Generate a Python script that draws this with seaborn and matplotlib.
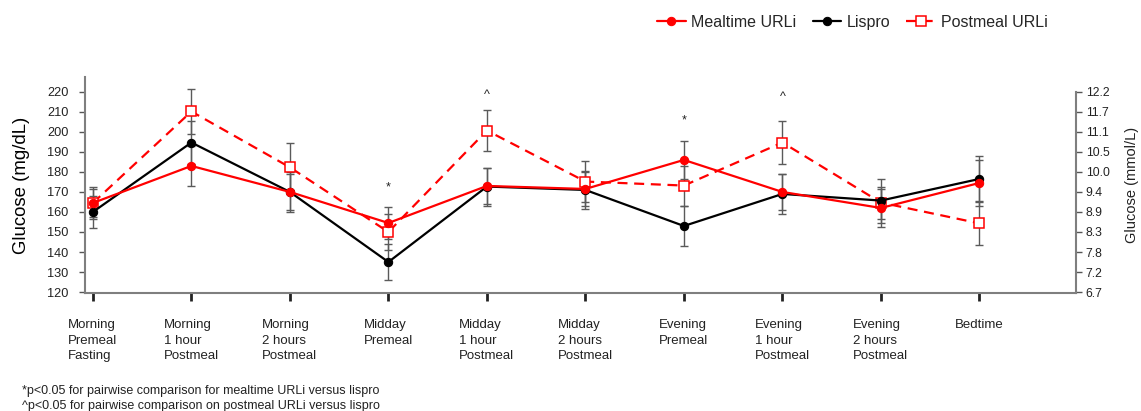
import numpy as np
import pandas as pd
import matplotlib
matplotlib.use("Agg")
import matplotlib.pyplot as plt
import seaborn as sns

# time points along the day
timepoints = [
    "Morning\nPremeal\nFasting",
    "Morning\n1 hour\nPostmeal",
    "Morning\n2 hours\nPostmeal",
    "Midday\nPremeal",
    "Midday\n1 hour\nPostmeal",
    "Midday\n2 hours\nPostmeal",
    "Evening\nPremeal",
    "Evening\n1 hour\nPostmeal",
    "Evening\n2 hours\nPostmeal",
    "Bedtime",
]

# glucose, mg/dL (mean and error)
mealtime = [164.5, 183.0, 170.0, 154.5, 173.0, 171.5, 186.0, 170.0, 162.0, 174.5]
mealtime_err = [7.0, 10.0, 9.0, 7.8, 9.0, 8.5, 9.7, 9.0, 9.5, 11.5]
lispro = [160.0, 194.7, 170.0, 135.0, 172.7, 171.0, 153.0, 169.0, 165.7, 176.5]
lispro_err = [8.0, 10.7, 10.0, 9.0, 9.5, 9.5, 10.0, 10.0, 11.0, 11.5]
postmeal = [164.5, 210.2, 182.3, 150.0, 200.7, 175.2, 173.2, 194.7, 164.7, 154.3]
postmeal_err = [8.0, 11.2, 12.0, 9.0, 10.4, 10.3, 10.0, 10.7, 8.0, 11.0]

# axis ticks
mg_ticks = [120, 130, 140, 150, 160, 170, 180, 190, 200, 210, 220]
mmol_labels = ["6.7", "7.2", "7.8", "8.3", "8.9", "9.4", "10.0", "10.5", "11.1", "11.7", "12.2"]

# significance marks (time point index, y position, symbol)
sig_idx = [3, 4, 6, 7]
sig_y = [172.5, 218.5, 205.5, 217.3]
sig_sym = ["*", "^", "*", "^"]

footnotes = [
    "*p<0.05 for pairwise comparison for mealtime URLi versus lispro",
    "^p<0.05 for pairwise comparison on postmeal URLi versus lispro",
]

sns.set_theme(style="ticks")
plt.rcParams["font.family"] = ["Liberation Sans", "DejaVu Sans"]

df = pd.DataFrame({
    "idx": np.arange(len(timepoints)),
    "mealtime": mealtime,
    "lispro": lispro,
    "postmeal": postmeal,
})

fig = plt.figure(figsize=(11.41, 4.11), dpi=100)
ax = fig.add_axes([0.0745, 0.287, 0.8685, 0.526])

err_kw = dict(fmt="none", ecolor="#5a5a5a", elinewidth=1.0, capsize=3, capthick=1.0, zorder=1)
ax.errorbar(df["idx"], df["postmeal"], yerr=postmeal_err, **err_kw)
ax.errorbar(df["idx"], df["lispro"], yerr=lispro_err, **err_kw)
ax.errorbar(df["idx"], df["mealtime"], yerr=mealtime_err, **err_kw)

sns.lineplot(data=df, x="idx", y="postmeal", ax=ax, color="red", lw=1.6,
             linestyle=(0, (4.5, 3)), marker="s", markersize=6.5,
             markerfacecolor="white", markeredgecolor="red", markeredgewidth=1.1,
             label="Postmeal URLi", zorder=3)
sns.lineplot(data=df, x="idx", y="lispro", ax=ax, color="black", lw=1.6,
             marker="o", markersize=6, markeredgecolor="black",
             label="Lispro", zorder=4)
sns.lineplot(data=df, x="idx", y="mealtime", ax=ax, color="red", lw=1.6,
             marker="o", markersize=6, markeredgecolor="red",
             label="Mealtime URLi", zorder=5)

for i, yv, s in zip(sig_idx, sig_y, sig_sym):
    ax.text(i, yv, s, ha="center", va="center", fontsize=9, color="#222222")

ax.set_xlim(-0.08, 9.98)
ax.set_ylim(119.5, 227.5)
ax.set_xticks(df["idx"])
ax.set_xticklabels(timepoints, fontsize=9.5, ha="center", multialignment="left",
                   linespacing=1.35, color="#222222")
ax.set_yticks(mg_ticks)
ax.set_yticklabels([str(t) for t in mg_ticks], fontsize=9.2, color="#222222")
ax.set_xlabel("")
ax.set_ylabel("Glucose (mg/dL)", fontsize=13.4, color="black")
ax.yaxis.set_label_coords(-0.0555, 0.5)
ax.tick_params(axis="x", direction="out", length=6, width=2, color="#222222", pad=13)
ax.tick_params(axis="y", direction="out", length=4, width=1, color="#555555", pad=8)

for side in ["left", "bottom"]:
    ax.spines[side].set_color("#7f7f7f")
    ax.spines[side].set_linewidth(1.5)
ax.spines["top"].set_visible(False)
ax.spines["right"].set_visible(False)

ax2 = ax.twinx()
ax2.set_ylim(ax.get_ylim())
ax2.set_yticks(mg_ticks)
ax2.set_yticklabels(mmol_labels, fontsize=8.8, color="#222222")
ax2.set_ylabel("Glucose (mmol/L)", fontsize=10.5, color="#222222")
ax2.yaxis.set_label_coords(1.049, 0.5)
ax2.tick_params(axis="y", direction="out", length=4, width=1, color="#555555", pad=3)
ax2.spines["right"].set_color("#7f7f7f")
ax2.spines["right"].set_linewidth(1.5)
ax2.spines["right"].set_bounds(119.5, 220)
for side in ["left", "top", "bottom"]:
    ax2.spines[side].set_visible(False)

handles, labels = ax.get_legend_handles_labels()
order = [labels.index("Mealtime URLi"), labels.index("Lispro"), labels.index("Postmeal URLi")]
ax.get_legend().remove()
fig.legend([handles[k] for k in order], [labels[k] for k in order],
           loc="center", bbox_to_anchor=(0.747, 0.946), ncol=3, frameon=False,
           fontsize=11.5, handlelength=1.8, handletextpad=0.35, columnspacing=1.0)

fig.text(0.019, 0.049, footnotes[0], fontsize=9, va="center", ha="left", color="#222222")
fig.text(0.019, 0.012, footnotes[1], fontsize=9, va="center", ha="left", color="#222222")

fig.savefig("out.png", dpi=100)
